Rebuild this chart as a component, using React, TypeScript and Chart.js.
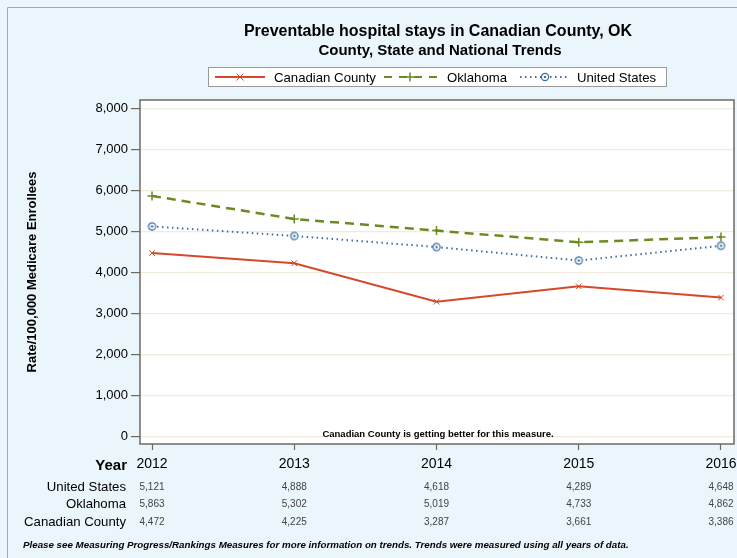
import { useEffect, useRef } from 'react';
import { Chart, registerables } from 'chart.js';

Chart.register(...registerables);

const years = [2012, 2013, 2014, 2015, 2016];
const canadianCounty = [4472, 4225, 3287, 3661, 3386];
const oklahoma = [5863, 5302, 5019, 4733, 4862];
const unitedStates = [5121, 4888, 4618, 4289, 4648];
const yTickValues = [0, 1000, 2000, 3000, 4000, 5000, 6000, 7000, 8000];
const seriesNames = ['Canadian County', 'Oklahoma', 'United States'];
const seriesColors = ['#d5492a', '#6b8a22', '#3b6fa3'];

const titleText = 'Preventable hospital stays in Canadian County, OK';
const subtitleText = 'County, State and National Trends';
const yTitleText = 'Rate/100,000 Medicare Enrollees';
const noteText = 'Canadian County is getting better for this measure.';
const footText =
  'Please see Measuring Progress/Rankings Measures for more information on trends. Trends were measured using all years of data.';

const FONT = '"Liberation Sans", Arial, sans-serif';
const NARROW = '"Liberation Sans Narrow", "Arial Narrow", "Liberation Sans", Arial, sans-serif';
const FRAME = '#6e6a62';

const fmt = (v: number) => v.toLocaleString('en-US');

function circleMarker(color: string): HTMLCanvasElement {
  const c = document.createElement('canvas');
  c.width = 11;
  c.height = 11;
  const g = c.getContext('2d')!;
  g.strokeStyle = color;
  g.lineWidth = 1.2;
  g.fillStyle = '#ffffff';
  g.beginPath();
  g.arc(5.5, 5.5, 3.6, 0, Math.PI * 2);
  g.fill();
  g.stroke();
  g.fillStyle = color;
  g.beginPath();
  g.arc(5.5, 5.5, 1.2, 0, Math.PI * 2);
  g.fill();
  return c;
}

function drawMarker(ctx: CanvasRenderingContext2D, kind: number, x: number, y: number, color: string) {
  ctx.save();
  ctx.strokeStyle = color;
  ctx.setLineDash([]);
  if (kind === 0) {
    ctx.lineWidth = 1;
    const r = 3.5;
    ctx.beginPath();
    ctx.moveTo(x - r, y - r);
    ctx.lineTo(x + r, y + r);
    ctx.moveTo(x + r, y - r);
    ctx.lineTo(x - r, y + r);
    ctx.stroke();
  } else if (kind === 1) {
    ctx.lineWidth = 1.5;
    const r = 4.5;
    ctx.beginPath();
    ctx.moveTo(x - r, y);
    ctx.lineTo(x + r, y);
    ctx.moveTo(x, y - r);
    ctx.lineTo(x, y + r);
    ctx.stroke();
  } else {
    ctx.lineWidth = 1.2;
    ctx.fillStyle = '#fff';
    ctx.beginPath();
    ctx.arc(x, y, 3.6, 0, Math.PI * 2);
    ctx.fill();
    ctx.stroke();
    ctx.fillStyle = color;
    ctx.beginPath();
    ctx.arc(x, y, 1.2, 0, Math.PI * 2);
    ctx.fill();
  }
  ctx.restore();
}

const decorPlugin = {
  id: 'decor',
  beforeDraw(chart: any) {
    const { ctx, width, height, chartArea: a } = chart;
    ctx.save();
    ctx.fillStyle = '#eaf5fc';
    ctx.fillRect(0, 0, width, height);
    ctx.strokeStyle = '#a8a8a8';
    ctx.lineWidth = 1;
    ctx.beginPath();
    ctx.moveTo(7.5, height);
    ctx.lineTo(7.5, 7.5);
    ctx.lineTo(width, 7.5);
    ctx.stroke();
    ctx.fillStyle = '#ffffff';
    ctx.fillRect(a.left, a.top, a.right - a.left, a.bottom - a.top);
    ctx.restore();
  },
  afterDraw(chart: any) {
    const { ctx, chartArea: a } = chart;
    const xs = chart.scales.x;
    ctx.save();

    // plot frame
    ctx.strokeStyle = FRAME;
    ctx.lineWidth = 1.5;
    ctx.strokeRect(a.left, a.top, a.right - a.left, a.bottom - a.top);

    // titles
    ctx.fillStyle = '#000';
    ctx.textAlign = 'center';
    ctx.textBaseline = 'middle';
    ctx.font = `bold 16px ${FONT}`;
    ctx.fillText(titleText, 438, 32);
    ctx.font = `bold 15px ${FONT}`;
    ctx.fillText(subtitleText, 440, 51);

    // legend
    const lx0 = 208, lx1 = 667, ly0 = 67, ly1 = 87, ly = 77;
    ctx.fillStyle = '#ffffff';
    ctx.fillRect(lx0, ly0, lx1 - lx0, ly1 - ly0);
    ctx.strokeStyle = '#9a9a9a';
    ctx.lineWidth = 1;
    ctx.strokeRect(lx0 + 0.5, ly0 + 0.5, lx1 - lx0 - 1, ly1 - ly0 - 1);
    const items = [
      { x0: 215, x1: 265, mx: 240, tx: 274, dash: [] as number[], w: 2 },
      { x0: 384, x1: 437, mx: 410, tx: 447, dash: [8, 7], w: 2.2 },
      { x0: 520, x1: 568, mx: 545, tx: 577, dash: [1.5, 3.5], w: 1.8 },
    ];
    items.forEach((it, i) => {
      ctx.save();
      ctx.strokeStyle = seriesColors[i];
      ctx.lineWidth = it.w;
      ctx.setLineDash(it.dash);
      ctx.beginPath();
      ctx.moveTo(it.x0, ly);
      ctx.lineTo(it.x1, ly);
      ctx.stroke();
      ctx.restore();
      drawMarker(ctx, i, it.mx, ly, seriesColors[i]);
      ctx.fillStyle = '#000';
      ctx.textAlign = 'left';
      ctx.textBaseline = 'middle';
      ctx.font = `13.2px ${FONT}`;
      ctx.fillText(seriesNames[i], it.tx, ly + 1);
    });

    // y title
    ctx.save();
    ctx.translate(32, (a.top + a.bottom) / 2);
    ctx.rotate(-Math.PI / 2);
    ctx.fillStyle = '#000';
    ctx.textAlign = 'center';
    ctx.textBaseline = 'middle';
    ctx.font = `bold 13px ${FONT}`;
    ctx.fillText(yTitleText, 0, 0);
    ctx.restore();

    // note
    ctx.fillStyle = '#000';
    ctx.textAlign = 'center';
    ctx.textBaseline = 'middle';
    ctx.font = `bold 9.5px ${FONT}`;
    ctx.fillText(noteText, 438, 434);

    // table
    ctx.textAlign = 'right';
    ctx.font = `bold 15px ${FONT}`;
    ctx.fillText('Year', 127, 466);
    const rows = [
      { name: seriesNames[2], vals: unitedStates, y: 487 },
      { name: seriesNames[1], vals: oklahoma, y: 504 },
      { name: seriesNames[0], vals: canadianCounty, y: 522 },
    ];
    rows.forEach((r) => {
      ctx.fillStyle = '#000';
      ctx.textAlign = 'right';
      ctx.font = `13.2px ${FONT}`;
      ctx.fillText(r.name, 126, r.y);
      ctx.fillStyle = '#444';
      ctx.textAlign = 'center';
      ctx.font = `10px ${NARROW}`;
      r.vals.forEach((v, i) => {
        ctx.fillText(fmt(v), xs.getPixelForValue(years[i]), r.y);
      });
    });

    // footnote
    ctx.fillStyle = '#000';
    ctx.textAlign = 'left';
    ctx.font = `italic bold 9.75px ${FONT}`;
    ctx.fillText(footText, 23, 545);

    ctx.restore();
  },
};

export default function App() {
  const ref = useRef<HTMLCanvasElement>(null);

  useEffect(() => {
    document.body.style.margin = '0';
    const canvas = ref.current!;
    const mk = (vals: number[]) => years.map((x, i) => ({ x, y: vals[i] }));
    const chart = new Chart(canvas, {
      type: 'line',
      data: {
        datasets: [
          {
            label: seriesNames[0],
            data: mk(canadianCounty),
            borderColor: seriesColors[0],
            borderWidth: 2,
            pointStyle: 'crossRot',
            pointRadius: 4,
            pointBorderWidth: 1,
            pointBorderColor: seriesColors[0],
            tension: 0,
          },
          {
            label: seriesNames[1],
            data: mk(oklahoma),
            borderColor: seriesColors[1],
            borderWidth: 2.5,
            borderDash: [9, 6],
            pointStyle: 'cross',
            pointRadius: 4.5,
            pointBorderWidth: 1.5,
            pointBorderColor: seriesColors[1],
            tension: 0,
          },
          {
            label: seriesNames[2],
            data: mk(unitedStates),
            borderColor: seriesColors[2],
            borderWidth: 2,
            borderDash: [1.5, 3.5],
            pointStyle: circleMarker(seriesColors[2]) as any,
            pointRadius: 4,
            tension: 0,
          },
        ],
      },
      options: {
        animation: false,
        responsive: false,
        devicePixelRatio: 1,
        layout: { autoPadding: false, padding: { left: 0, top: 100, right: 3, bottom: 0 } },
        plugins: {
          legend: { display: false },
          title: { display: false },
          tooltip: { enabled: false },
        },
        scales: {
          x: {
            type: 'linear',
            min: 2011.9156,
            max: 2016.0914,
            afterBuildTicks: (s: any) => {
              s.ticks = years.map((v) => ({ value: v }));
            },
            afterFit: (s: any) => {
              s.height = 114;
              s.paddingLeft = 0;
              s.paddingRight = 0;
            },
            ticks: {
              callback: (v: any) => String(v),
              font: { family: FONT, size: 14 },
              color: '#000',
              padding: 6,
              maxRotation: 0,
              autoSkip: false,
            },
            grid: {
              drawOnChartArea: false,
              tickLength: 6,
              tickColor: FRAME,
              tickWidth: 1.2,
            },
            border: { display: false },
          },
          y: {
            type: 'linear',
            min: -180,
            max: 8200,
            afterBuildTicks: (s: any) => {
              s.ticks = yTickValues.map((v) => ({ value: v }));
            },
            afterFit: (s: any) => {
              s.width = 140;
              s.paddingTop = 0;
              s.paddingBottom = 0;
            },
            ticks: {
              callback: (v: any) => fmt(Number(v)),
              font: { family: FONT, size: 13 },
              color: '#000',
              padding: 3,
            },
            grid: {
              color: '#efecdf',
              lineWidth: 1.2,
              tickLength: 9,
              tickColor: FRAME,
              tickWidth: 1.2,
            },
            border: { display: false },
          },
        },
      },
      plugins: [decorPlugin],
    } as any);
    return () => chart.destroy();
  }, []);

  return <canvas ref={ref} width={737} height={558} style={{ display: 'block', width: 737, height: 558 }} />;
}
